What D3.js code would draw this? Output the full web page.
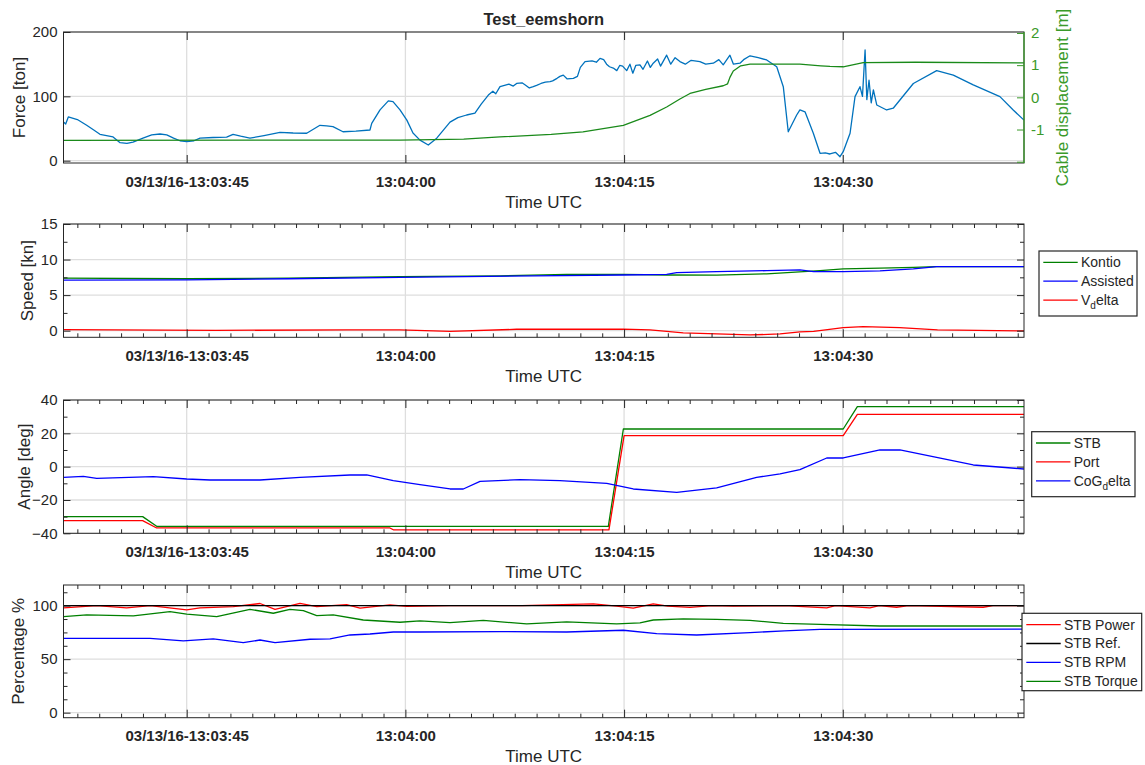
<!DOCTYPE html>
<html>
<head>
<meta charset="utf-8">
<script src="https://cdn.jsdelivr.net/npm/d3@7"></script>
<style>
  body { margin: 0; background: #ffffff; }
</style>
</head>
<body>
<div id="canvas"></div>
<script>
"use strict"

/* Time axis: seconds after 13:03:00 UTC */
let timeDomain = [36.55, 102.43];
let timeTicks = [45, 60, 75, 90];
let timeTickLabels = ["03/13/16-13:03:45", "13:04:00", "13:04:15", "13:04:30"];
let timeMinorTicks = [37.5, 39, 40.5, 42, 43.5, 46.5, 48, 49.5, 51, 52.5, 54, 55.5, 57, 58.5,
                      61.5, 63, 64.5, 66, 67.5, 69, 70.5, 72, 73.5, 76.5, 78, 79.5, 81, 82.5,
                      84, 85.5, 87, 88.5, 91.5, 93, 94.5, 96, 97.5, 99, 100.5, 102];

/* Panel 1: force [ton] and cable displacement [m], pairs of [time, value] */
let forceData = [[36.55,60],[36.7,57],[36.88,68],[37.5,64],[38.14,55],[38.6,48],[39.05,41],[39.5,39],
  [39.95,37],[40.43,28],[40.9,27],[41.32,29],[42.0,35],[42.6,40],[43.17,41.5],[43.63,40],[44.1,35],
  [44.54,31],[45,29.5],[45.5,31],[45.91,35],[46.8,36],[47.74,36.5],[48.18,41],[48.7,38],[49.34,35],
  [50.3,39],[51.4,44],[52.3,43],[53.23,42.6],[54.14,55],[54.6,54],[55.03,53],[55.72,45],[56.6,46],
  [57.57,47.7],[57.69,58],[58.26,79],[58.83,93],[59.15,91.7],[59.63,79],[60.1,63],[60.52,43],[61.0,32],
  [61.57,24.4],[62.15,35],[63.06,60],[63.6,67],[64.2,71],[64.77,74],[65.2,88],[65.69,102],[66.0,108],
  [66.2,104],[66.49,115],[66.8,117],[67.1,119],[67.4,116],[67.63,120],[68.0,121],[68.2,118],[68.5,113],
  [68.77,115],[69.0,117],[69.3,120],[69.6,122],[69.92,123],[70.1,124],[70.4,128],[70.6,131],
  [70.83,133],[71.1,127],[71.52,128],[71.8,131],[72.0,145],[72.32,154],[72.8,155],[73.1,153],
  [73.35,159],[73.6,157],[73.8,150],[74.0,146],[74.26,144],[74.5,140],[74.7,148],[74.9,147],
  [75.18,140],[75.4,150],[75.6,136],[75.8,148],[76.09,149],[76.3,142],[76.6,155],[76.8,145],
  [77.0,151.5],[77.3,158],[77.5,147],[77.92,164],[78.2,150],[78.5,160],[78.83,154],[79.2,150],
  [79.6,156],[80.2,154],[80.6,150],[81.12,151.5],[81.5,157],[81.8,149],[82.26,164],[82.5,150],
  [82.95,151.5],[83.2,157],[83.64,163],[84.2,160],[84.78,156.6],[85.47,146],[85.92,115],[86.26,45],
  [86.84,71],[87.06,79],[87.41,76],[87.98,42.6],[88.44,11.5],[88.8,12],[89.12,10.4],[89.5,13],
  [89.81,6.2],[90.03,14],[90.5,42.6],[90.84,99.5],[91.18,115],[91.35,100],[91.53,172],[91.65,95],
  [91.8,125],[91.95,90],[92.1,110],[92.33,86.6],[93.01,78.8],[93.46,81.5],[94.84,120],[96.44,140],
  [97.58,133],[98.95,117.7],[100.78,99.5],[101.69,78.8],[102.43,63]];
let cableData = [[36.55,-1.34],[50,-1.33],[59.63,-1.33],[64,-1.3],[66.49,-1.23],[70,-1.15],
  [72.18,-1.07],[74.95,-0.87],[76.78,-0.56],[77.92,-0.3],[78.83,-0.05],[79.52,0.12],[80.6,0.25],
  [81.8,0.36],[82.1,0.42],[82.26,0.62],[82.49,0.82],[83.0,0.98],[83.64,1.03],[87.06,1.03],
  [88.5,0.98],[89.12,0.96],[90.03,0.95],[91.4,1.08],[95,1.09],[102.43,1.07]];

/* Panel 2: speed [kn] */
let kontioData = [[36.55,7.4],[45,7.3],[52,7.4],[59.63,7.6],[66.49,7.7],[71.06,7.93],[74.95,7.93],
  [77.92,7.83],[81.35,7.8],[84.78,8.0],[88.44,8.44],[90.03,8.7],[92.55,8.8],[94.84,8.9],[96.4,9.0],
  [102.43,9.0]];
let assistedData = [[36.55,7.1],[45,7.15],[52,7.3],[59.63,7.5],[68.77,7.7],[74.95,7.83],[77.92,7.93],
  [78.61,8.16],[81.35,8.3],[84.78,8.44],[87.06,8.54],[88,8.3],[90.03,8.3],[92.55,8.4],[94.84,8.7],
  [96.44,9.0],[102.43,9.0]];
let vdeltaData = [[36.55,0.15],[47,0.05],[56,0.1],[59.63,0.1],[63.06,-0.1],[67.63,0.2],[74.95,0.22],
  [76.78,0.1],[79.06,-0.32],[83.64,-0.6],[85.7,-0.46],[87.06,-0.18],[88,-0.1],[90.03,0.42],
  [91.4,0.56],[93.9,0.42],[96.5,0.1],[102.43,-0.04]];

/* Panel 3: angle [deg] */
let stbAngleData = [[36.55,-30],[41.98,-30],[42.94,-35.8],[73.92,-35.8],[74.95,22.6],[90.03,22.6],
  [91.0,36],[102.43,36]];
let portAngleData = [[36.55,-32.4],[41.98,-32.4],[42.94,-36.8],[58.94,-36.8],[59.2,-38],[73.96,-38],
  [75.0,18.6],[90.03,18.6],[91.0,31.4],[102.43,31.4]];
let cogDeltaData = [[36.55,-6.4],[37.91,-5.8],[38.83,-7],[42.71,-6],[45,-7.4],[46.6,-8],[50.03,-8],
  [52.77,-6.4],[56.2,-5],[57.35,-5],[59.17,-8.4],[61,-10.8],[63.06,-13.4],[63.97,-13.4],[65.12,-8.8],
  [67.86,-7.8],[70.6,-8.4],[73.81,-10],[75.63,-13.4],[78.61,-15.4],[81.35,-12.8],[84.09,-6.4],
  [85.7,-4.4],[87.06,-1.8],[88.9,5.2],[90.03,5.2],[92.55,10],[93.92,10],[98.95,1],[102.43,-1.4]];

/* Panel 4: percentage */
let stbPowerData = [[36.55,98],[38.83,100],[40.88,98],[42.5,100],[45,96],[45.91,98],[48.2,99],
  [50.03,102],[51.06,96.6],[52.77,102.2],[53.92,99],[55.97,101],[56.89,97.6],[58.94,100.7],
  [60.09,99.4],[63.06,100],[68,100],[72.89,101.6],[74.49,99.5],[75.63,97.6],[77,101.6],[78,99.5],
  [79.52,98.3],[81,100],[82.49,99.6],[86,100],[88.9,98],[89.5,100],[91.86,98],[92.5,100],
  [93.69,98.5],[94.5,100],[99.63,98.5],[100.3,100],[102.43,100]];
let stbRefData = [[36.55,100],[102.43,100]];
let stbRpmData = [[36.55,69.5],[42.48,69.5],[44.77,67],[46.82,68.9],[48.88,65.4],[50.03,67.9],
  [51.06,65.4],[53.46,68.6],[54.83,68.9],[56.2,72.6],[57.57,73.5],[59.17,75.4],[61,75.4],[66.49,75.7],
  [71.06,75.4],[74.95,77],[77.24,73.8],[79.98,72.6],[83.64,74.8],[86,76.5],[88.44,77.9],[102.43,78]];
let stbTorqueData = [[36.55,89.7],[38.14,91.3],[41.34,90.4],[43.85,94.4],[45,92],[47.06,89.7],
  [49.34,96.6],[50.94,92.9],[52.08,96.6],[53,95.3],[53.92,90.7],[55.05,91.3],[57.11,86.6],
  [59.63,84.5],[61,85.7],[63.06,84.1],[65.34,86.3],[68.32,82.9],[71.06,84.8],[74.49,82.9],[76.09,84],
  [77,86.6],[79.06,87.6],[81.35,87.1],[83.64,86.3],[85.92,83.5],[88.44,82.6],[92.55,81],[102.43,81]];

/* Configuration variables: drawing */
let svgWidth = 1145;
let svgHeight = 765;
let plotLeft = 63.5;
let plotRight = 1024;
let textColor = "#262626";
let gridColor = "#dedede";
let fontFamily = "'Liberation Sans', Arial, sans-serif";
let cableColor = "#3a9a2a";
let tickFont = 15;
let labelFont = 17;

let svg = d3.select("#canvas")
    .append("svg")
    .attr("width", svgWidth)
    .attr("height", svgHeight)
    .attr("font-family", fontFamily);

let xScale = d3.scaleLinear()
    .domain(timeDomain)
    .range([plotLeft, plotRight]);

let panels = [
  {top: 32, bottom: 163, yDomain: [-3.6, 200], yTicks: [0, 100, 200], yMinor: [], minor: false,
   yLabel: "Force [ton]", yLabelX: 19,
   series: [{data: forceData, color: "#0072bd"}]},
  {top: 224, bottom: 337.3, yDomain: [-0.93, 15], yTicks: [0, 5, 10, 15], yMinor: [2.5, 7.5, 12.5], minor: true,
   yLabel: "Speed [kn]", yLabelX: 27.5,
   series: [{data: kontioData, color: "#008000", name: "Kontio"},
            {data: assistedData, color: "#0000ff", name: "Assisted"},
            {data: vdeltaData, color: "#ff0000", name: ["V", "d", "elta"]}],
   legend: {x: 1039, y: 251, w: 98, h: 65}},
  {top: 400, bottom: 533.3, yDomain: [-40, 40], yTicks: [-40, -20, 0, 20, 40], yMinor: [-30, -10, 10, 30], minor: true,
   yLabel: "Angle [deg]", yLabelX: 24,
   series: [{data: stbAngleData, color: "#008000", name: "STB"},
            {data: portAngleData, color: "#ff0000", name: "Port"},
            {data: cogDeltaData, color: "#0000ff", name: ["CoG", "d", "elta"]}],
   legend: {x: 1031.7, y: 431.7, w: 103.3, h: 65}},
  {top: 585, bottom: 717.7, yDomain: [-4.7, 119.3], yTicks: [0, 50, 100], yMinor: [12.5, 25, 37.5, 62.5, 75, 87.5, 112.5], minor: true,
   yLabel: "Percentage %", yLabelX: 18.5,
   series: [{data: stbPowerData, color: "#ff0000", name: "STB Power"},
            {data: stbRefData, color: "#000000", name: "STB Ref."},
            {data: stbRpmData, color: "#0000ff", name: "STB RPM"},
            {data: stbTorqueData, color: "#008000", name: "STB Torque"}],
   legend: {x: 1022, y: 613.3, w: 119.7, h: 77.4}}
];

/* style helper for axis groups */
function styleAxis(g, color, size, weight) {
  g.attr("font-family", fontFamily)
    .attr("font-size", size)
    .attr("font-weight", weight)
    .attr("color", color);
  g.select(".domain").remove();
}

function drawPanel(p) {
  let yScale = d3.scaleLinear()
      .domain(p.yDomain)
      .range([p.bottom, p.top]);
  let g = svg.append("g");

  /* grid */
  g.append("g").selectAll("line")
    .data(timeTicks)
    .join("line")
    .attr("x1", d => xScale(d)).attr("x2", d => xScale(d))
    .attr("y1", p.top).attr("y2", p.bottom)
    .attr("stroke", gridColor).attr("stroke-width", 1.3);
  g.append("g").selectAll("line")
    .data(p.yTicks)
    .join("line")
    .attr("x1", plotLeft).attr("x2", plotRight)
    .attr("y1", d => yScale(d)).attr("y2", d => yScale(d))
    .attr("stroke", gridColor).attr("stroke-width", 1.3);

  /* data lines */
  p.series.forEach(s => {
    let sy = s.scale || yScale;
    g.append("path")
      .datum(s.data)
      .attr("fill", "none")
      .attr("stroke", s.color)
      .attr("stroke-width", 1.3)
      .attr("stroke-linejoin", "round")
      .attr("d", d3.line().x(d => xScale(d[0])).y(d => sy(d[1])));
  });

  /* x axes, ticks pointing inward */
  let xBottom = g.append("g")
    .attr("transform", "translate(0," + p.bottom + ")")
    .call(d3.axisBottom(xScale).tickValues(timeTicks)
      .tickFormat((d, i) => timeTickLabels[i])
      .tickSizeInner(-8).tickSizeOuter(0).tickPadding(13));
  styleAxis(xBottom, textColor, tickFont, "bold");
  let xTop = g.append("g")
    .attr("transform", "translate(0," + p.top + ")")
    .call(d3.axisTop(xScale).tickValues(timeTicks).tickFormat("")
      .tickSizeInner(-8).tickSizeOuter(0));
  styleAxis(xTop, textColor, tickFont, "normal");

  if (p.minor) {
    let mb = g.append("g")
      .attr("transform", "translate(0," + p.bottom + ")")
      .call(d3.axisBottom(xScale).tickValues(timeMinorTicks).tickFormat("")
        .tickSizeInner(-4).tickSizeOuter(0));
    styleAxis(mb, textColor, tickFont, "normal");
    let mt = g.append("g")
      .attr("transform", "translate(0," + p.top + ")")
      .call(d3.axisTop(xScale).tickValues(timeMinorTicks).tickFormat("")
        .tickSizeInner(-4).tickSizeOuter(0));
    styleAxis(mt, textColor, tickFont, "normal");
  }

  /* y axes */
  let yLeft = g.append("g")
    .attr("transform", "translate(" + plotLeft + ",0)")
    .call(d3.axisLeft(yScale).tickValues(p.yTicks)
      .tickSizeInner(-7).tickSizeOuter(0).tickPadding(6));
  styleAxis(yLeft, textColor, tickFont, "normal");
  let yLeftMinor = g.append("g")
    .attr("transform", "translate(" + plotLeft + ",0)")
    .call(d3.axisLeft(yScale).tickValues(p.yMinor).tickFormat("")
      .tickSizeInner(-4).tickSizeOuter(0));
  styleAxis(yLeftMinor, textColor, tickFont, "normal");

  if (!p.rightAxis) {
    let yr = g.append("g")
      .attr("transform", "translate(" + plotRight + ",0)")
      .call(d3.axisRight(yScale).tickValues(p.minor ? p.yTicks : []).tickFormat("")
        .tickSizeInner(-7).tickSizeOuter(0));
    styleAxis(yr, textColor, tickFont, "normal");
    let yrm = g.append("g")
      .attr("transform", "translate(" + plotRight + ",0)")
      .call(d3.axisRight(yScale).tickValues(p.yMinor).tickFormat("")
        .tickSizeInner(-4).tickSizeOuter(0));
    styleAxis(yrm, textColor, tickFont, "normal");
  }

  /* box */
  g.append("rect")
    .attr("x", plotLeft).attr("y", p.top)
    .attr("width", plotRight - plotLeft).attr("height", p.bottom - p.top)
    .attr("fill", "none").attr("stroke", textColor).attr("stroke-width", 1);

  /* axis labels */
  g.append("text")
    .attr("transform", "translate(" + p.yLabelX + "," + ((p.top + p.bottom) / 2) + ") rotate(-90)")
    .attr("text-anchor", "middle")
    .attr("dy", "0.35em")
    .attr("font-size", labelFont)
    .attr("fill", textColor)
    .text(p.yLabel);
  g.append("text")
    .attr("x", (plotLeft + plotRight) / 2)
    .attr("y", p.bottom + 38.7)
    .attr("text-anchor", "middle")
    .attr("dy", "0.35em")
    .attr("font-size", labelFont)
    .attr("fill", textColor)
    .text("Time UTC");

  if (p.legend) drawLegend(p.legend, p.series);
  return yScale;
}

/* Legend box with short line samples */
function drawLegend(box, series) {
  let lg = svg.append("g");
  lg.append("rect")
    .attr("x", box.x).attr("y", box.y)
    .attr("width", box.w).attr("height", box.h)
    .attr("fill", "#ffffff").attr("stroke", textColor).attr("stroke-width", 1.2);
  series.forEach((s, i) => {
    let rowY = box.y + 11.3 + i * 18.9;
    lg.append("line")
      .attr("x1", box.x + 4.3).attr("x2", box.x + 38.7)
      .attr("y1", rowY).attr("y2", rowY)
      .attr("stroke", s.color).attr("stroke-width", 1.3);
    let t = lg.append("text")
      .attr("x", box.x + 42)
      .attr("y", rowY)
      .attr("dy", "0.35em")
      .attr("font-size", 14)
      .attr("fill", textColor);
    if (Array.isArray(s.name)) {
      t.append("tspan").text(s.name[0]);
      t.append("tspan").attr("dy", 4).attr("font-size", 10).text(s.name[1]);
      t.append("tspan").attr("dy", -4).text(s.name[2]);
    } else {
      t.text(s.name);
    }
  });
}

/* Panel 1 has a second (green) axis for the cable displacement */
let cableScale = d3.scaleLinear()
    .domain([-2.04, 2.03])
    .range([panels[0].bottom, panels[0].top]);
panels[0].rightAxis = true;
panels[0].series.push({data: cableData, color: "#1a8a1a", scale: cableScale});

panels.forEach(p => drawPanel(p));

let cableAxis = svg.append("g")
    .attr("transform", "translate(" + plotRight + ",0)")
    .call(d3.axisRight(cableScale).tickValues([-2, -1, 0, 1, 2])
      .tickFormat(d => d === -2 ? "" : d)
      .tickSizeInner(-7).tickSizeOuter(0).tickPadding(7));
styleAxis(cableAxis, cableColor, tickFont, "normal");

svg.append("line")
    .attr("x1", plotRight).attr("x2", plotRight)
    .attr("y1", panels[0].top).attr("y2", panels[0].bottom)
    .attr("stroke", cableColor).attr("stroke-width", 1.3);

svg.append("text")
    .attr("transform", "translate(1061.7," + ((panels[0].top + panels[0].bottom) / 2) + ") rotate(-90)")
    .attr("text-anchor", "middle")
    .attr("dy", "0.35em")
    .attr("font-size", labelFont)
    .attr("fill", cableColor)
    .text("Cable displacement [m]");

/* Title */
svg.append("text")
    .attr("x", (plotLeft + plotRight) / 2)
    .attr("y", 19)
    .attr("text-anchor", "middle")
    .attr("dy", "0.35em")
    .attr("font-size", 16.5)
    .attr("font-weight", "bold")
    .attr("fill", textColor)
    .text("Test_eemshorn");
</script>
</body>
</html>
